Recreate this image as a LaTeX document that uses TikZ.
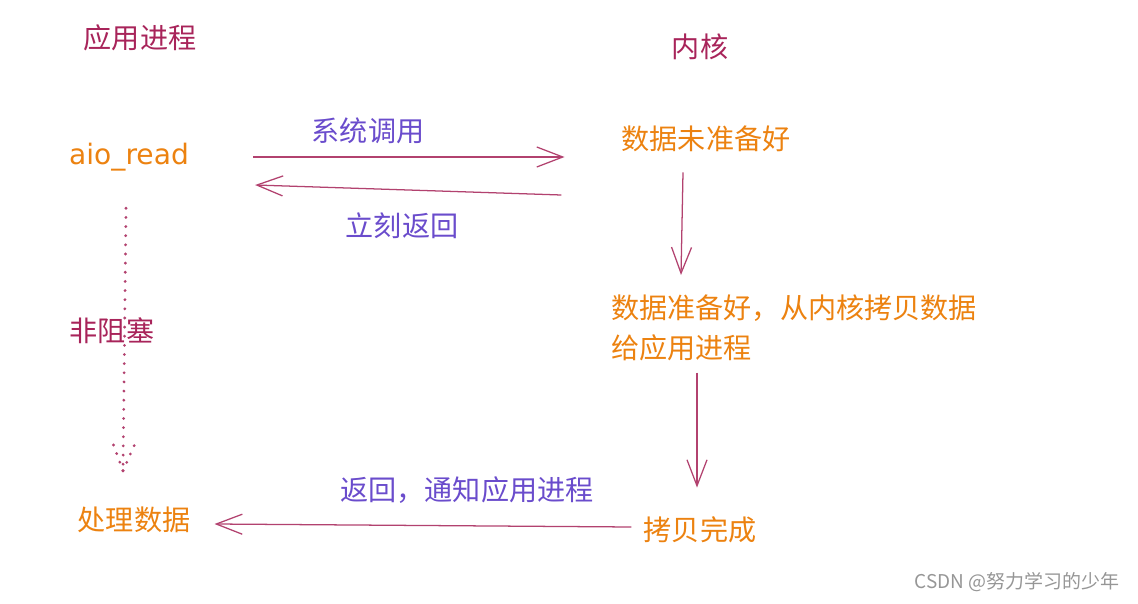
\documentclass[tikz,border=0pt]{standalone}
\usepackage{fontspec}
\usepackage{tikz}
\setmainfont{Noto Sans CJK SC}
\newfontfamily\handfont{DejaVu Sans}
\usetikzlibrary{arrows.meta}
\definecolor{procred}{RGB}{168, 36, 90}
\definecolor{kernorange}{RGB}{236, 130, 16}
\definecolor{callpurple}{RGB}{106, 76, 204}
\definecolor{arrowred}{RGB}{178, 66, 111}
\definecolor{markgray}{RGB}{150, 150, 150}

\begin{document}
\begin{tikzpicture}[x=0.025cm, y=-0.025cm,
        title/.style={text=procred, font=\fontsize{20}{24}\selectfont, inner sep=0pt},
        state/.style={text=kernorange, font=\fontsize{20}{24}\selectfont, inner sep=0pt},
        tag/.style={text=callpurple, font=\fontsize{20}{24}\selectfont, inner sep=0pt},
        flow/.style={-{Straight Barb[length=0.65cm, width=0.5cm]}, arrowred, line width=0.9pt},
        dots/.style={arrowred, line width=2.2pt, line cap=round, dash pattern=on 0pt off 6.5pt}]
        \useasboundingbox (0,0) rectangle (1138,604);
        % 两侧标题
        \node[title] (app) at (140,38) {应用进程};
        \node[title] (kern) at (700,47) {内核};
        % 应用进程一侧
        \node[text=kernorange, font=\handfont\fontsize{20}{24}\selectfont, inner sep=0pt] (aio) at (129,157) {aio\_read};
        \node[title] (nonblock) at (112,331) {非阻塞};
        \node[state] (proc) at (134,520) {处理数据};
        % 内核一侧
        \node[state] (notready) at (706,139) {数据未准备好};
        \node[state, anchor=north west, align=left, font=\fontsize{20}{29}\selectfont] (ready) at (611,294) {数据准备好，从内核拷贝数据\\给应用进程};
        \node[state] (done) at (700,530) {拷贝完成};
        % 箭头上的说明
        \node[tag] (syscall) at (368,131) {系统调用};
        \node[tag] (back) at (402,226) {立刻返回};
        \node[tag] (notify) at (467,490) {返回，通知应用进程};
        % 箭头
        \draw[flow, shorten <=1.6cm, shorten >=1.42cm] (aio.east) -- (aio.east -| notready.west);
        \draw[flow] ([shift={(-60,56)}]notready.west) -- ([shift={(66,28)}]aio.east);
        \draw[flow] ([shift={(-23,20)}]notready.south) -- ([shift={(70,-19)}]ready.north west);
        \draw[flow] ([shift={(86,11)}]ready.south west) -- ([shift={(-3,-29)}]done.north);
        \draw[flow] ([shift={(-12,-3)}]done.west) -- ([shift={(24,4)}]proc.east);
        % 非阻塞的虚线
        \coordinate (nbtip) at ([shift={(-11,-36)}]proc.north);
        \draw[dots] ([shift={(-3,37)}]aio.south) -- (nbtip);
        \draw[dots] (nbtip) -- ++(-10,-27);
        \draw[dots] (nbtip) -- ++(12,-27);
        % 水印
        \node[text=markgray, font=\fontsize{13.5}{16}\selectfont, inner sep=0pt] (mark) at (1017,582) {CSDN @努力学习的少年};
    \end{tikzpicture}
\end{document}
